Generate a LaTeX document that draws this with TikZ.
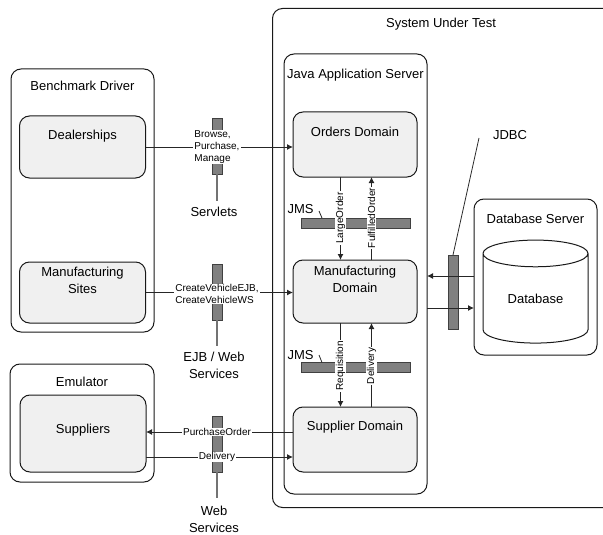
\documentclass[tikz,border=0pt]{standalone}
\usepackage{fontspec}
\setmainfont{Liberation Sans}
\usetikzlibrary{positioning}
\usetikzlibrary{arrows.meta,shapes.geometric}

\tikzset{
  hostbox/.style={draw=black!90,line width=1pt,rounded corners=10pt,outer sep=0pt,inner sep=0pt},
  compbox/.style={hostbox,fill=black!6},
  wirebar/.style={draw=black!75,line width=1pt,fill=black!50,outer sep=0pt,inner sep=0pt},
  bigtext/.style={inner sep=0pt,align=center,font=\fontsize{13}{17}\selectfont},
  msgtext/.style={fill=white,inner xsep=1pt,inner ysep=0.5pt,font=\fontsize{10}{12}\selectfont},
  msgline/.style={draw=black!85,line width=1pt,-{Latex[length=6pt,width=6pt]}},
  tickline/.style={draw=black!85,line width=0.8pt},
  stemline/.style={draw=black!55,line width=1.6pt}
}

\begin{document}
\begin{tikzpicture}[x=1pt,y=-1pt]
\useasboundingbox (0,0) rectangle (603,535);

% left side
\node[hostbox,minimum width=143pt,minimum height=263pt] (driver) at (82.5,200.5) {};
\node[bigtext,below=11.5pt of driver.north] (drivertxt) {Benchmark Driver};
\node[compbox,minimum width=126pt,minimum height=62pt,below=47pt of driver.north] (dealer) {};
\node[bigtext,below=13.5pt of dealer.north] (dealertxt) {Dealerships};
\node[compbox,minimum width=126pt,minimum height=61pt,below=84pt of dealer.south] (sites) {};
\node[bigtext,below=5pt of sites.north] (sitestxt) {Manufacturing\\Sites};
\node[hostbox,minimum width=144pt,minimum height=118pt] (emulator) at (82,423) {};
\node[bigtext,below=12.5pt of emulator.north] (emulatortxt) {Emulator};
\node[compbox,minimum width=126pt,minimum height=77pt] (suppliers) at (83,433.5) {};
\node[bigtext,below=28.5pt of suppliers.north] (supplierstxt) {Suppliers};

% system under test, open at the right
\coordinate (sutne) at (603,8.5);
\coordinate (sutse) at (603,507.5);
\draw[draw=black!90,line width=1pt,rounded corners=10pt] (sutne) -- (272.5,8.5) -- (272.5,507.5) -- (sutse);
\node[bigtext] (suttxt) at (441,24) {System Under Test};
\node[hostbox,minimum width=143pt,minimum height=440pt] (java) at (355.5,274) {};
\node[bigtext,below=14.5pt of java.north] (javatxt) {Java Application Server};
\node[compbox,minimum width=124pt,minimum height=65pt] (orders) at (355,144.5) {};
\node[bigtext,below=15pt of orders.north] (orderstxt) {Orders Domain};
\node[compbox,minimum width=124pt,minimum height=63pt,below=83pt of orders.south] (mfg) {};
\node[bigtext,below=6pt of mfg.north] (mfgtxt) {Manufacturing\\Domain};
\node[compbox,minimum width=124pt,minimum height=65pt,below=84pt of mfg.south] (supdom) {};
\node[bigtext,below=14pt of supdom.north] (supdomtxt) {Supplier Domain};

% database
\node[hostbox,minimum width=123pt,minimum height=156pt] (dbserver) at (535.5,277) {};
\node[bigtext,below=14.5pt of dbserver.north] (dbservertxt) {Database Server};
\node[draw=black!90,line width=1pt,cylinder,shape border rotate=90,aspect=0.48,minimum width=105pt,minimum height=103pt,
      outer sep=0pt,inner sep=0pt,font=\fontsize{13}{17}\selectfont] (db) at (535.5,298.5) {Database};

% the bars
\node[wirebar,minimum width=10pt,minimum height=55pt] (servletbar) at (217,146.5) {};
\node[wirebar,minimum width=10pt,minimum height=56pt] (ejbbar) at (217,292) {};
\node[wirebar,minimum width=10pt,minimum height=56pt] (wsbar) at (217,444) {};
\node[wirebar,minimum width=109pt,minimum height=10pt] (jmsbara) at (355.5,223) {};
\node[wirebar,minimum width=109pt,minimum height=10pt] (jmsbarb) at (355.5,367.5) {};
\node[wirebar,minimum width=10pt,minimum height=74pt] (jdbcbar) at (453,292) {};

\node[bigtext] (servlets) at (214,212) {Servlets};
\node[bigtext] (ejbws) at (214,365.5) {EJB / Web\\Services};
\node[bigtext] (ws) at (214,519.5) {Web\\Services};
\node[bigtext] (jmsa) at (300.5,209) {JMS};
\node[bigtext] (jmsb) at (300.5,355) {JMS};
\node[bigtext] (jdbc) at (510,135.5) {JDBC};

\coordinate (jmsatick) at (319,211);
\coordinate (jmsbtick) at (319,355);
\coordinate (jdbctick) at (479,138);
\draw[stemline] (servletbar.south) -- ++(0,27);
\draw[stemline] (ejbbar.south) -- ++(0,26);
\draw[stemline] (wsbar.south) -- ++(0,26);
\draw[tickline] (jmsatick) -- (jmsbara.north west -| 322,0);
\draw[tickline] (jmsbtick) -- (jmsbarb.north west -| 322,0);
\draw[tickline] (jdbctick) -- (jdbcbar.north);

% messages
\draw[msgline] (dealer) -- (dealer -| orders.west);
\draw[msgline] (sites) -- (sites -| mfg.west);
\draw[msgline] (suppliers.east |- 0,457) -- (supdom.west |- 0,457);
\draw[msgline] (supdom.west |- 0,432) -- (suppliers.east |- 0,432);
\draw[msgline] (340.5,0 |- orders.south) -- (340.5,0 |- mfg.north);
\draw[msgline] (371.5,0 |- mfg.north) -- (371.5,0 |- orders.south);
\draw[msgline] (340.5,0 |- mfg.south) -- (340.5,0 |- supdom.north);
\draw[msgline] (371.5,0 |- supdom.north) -- (371.5,0 |- mfg.south);
\draw[msgline] (dbserver.west |- 0,276) -- (java.east |- 0,276);
\draw[msgline] (java.east |- 0,308) -- (dbserver.west |- 0,308);

\node[msgtext,align=left] (browse) at (servletbar |- dealer) {Browse,\\Purchase,\\Manage};
\node[msgtext,align=left] (create) at (ejbbar |- 0,294) {CreateVehicleEJB,\\CreateVehicleWS};
\node[msgtext] (purchase) at (wsbar |- 0,432) {PurchaseOrder};
\node[msgtext] (delivery) at (wsbar |- 0,457) {Delivery};
\node[msgtext,rotate=90] (large) at (340.5,218) {LargeOrder};
\node[msgtext,rotate=90] (fulfilled) at (371.5,218) {FulfilledOrder};
\node[msgtext,rotate=90] (requisition) at (340.5,366) {Requisition};
\node[msgtext,rotate=90] (delivery2) at (371.5,366) {Delivery};
\end{tikzpicture}
\end{document}
